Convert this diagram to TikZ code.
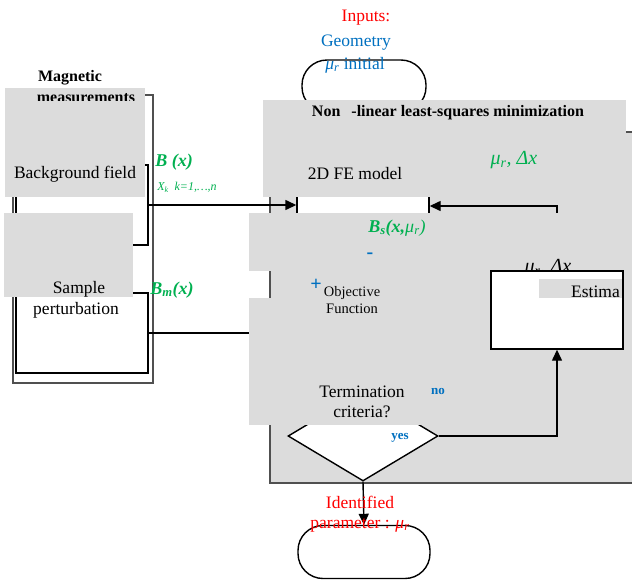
\documentclass[tikz,border=0pt]{standalone}
\usepackage{fontspec}
\setmainfont{Liberation Serif}
\usetikzlibrary{positioning, arrows.meta, shapes.geometric}

\definecolor{patchgray}{RGB}{220,220,220}
\definecolor{framegray}{RGB}{80,80,80}
\definecolor{labelgreen}{RGB}{0,176,80}
\definecolor{labelblue}{RGB}{0,112,192}

\begin{document}
\begin{tikzpicture}[
    x=1pt, y=-1pt, >={Triangle[length=11pt,width=10pt]},
    patch/.style={fill=patchgray},
    box/.style={draw, line width=1.4pt, fill=white, inner sep=0pt},
    terminal/.style={box, rounded corners=25pt},
    txt/.style={inner sep=0pt, font=\fontsize{17.5}{20}\selectfont},
    head/.style={inner sep=0pt, font=\fontsize{16}{19}\selectfont\bfseries},
    small/.style={inner sep=0pt, font=\fontsize{14.5}{17}\selectfont, align=center},
    gtxt/.style={inner sep=0pt, text=labelgreen, font=\fontsize{18}{21}\selectfont\bfseries\itshape},
    btxt/.style={inner sep=0pt, text=labelblue, font=\fontsize{13}{15}\selectfont\bfseries},
    line/.style={line width=1.4pt}
]
    \useasboundingbox (0,0) rectangle (632,581);
    \clip (0,0) rectangle (632,581);

    % minimization frame
    \filldraw[patch, draw=framegray, line width=1.4pt] (270,132) rectangle (645,483);

    % boxes under the patches
    \node[terminal, minimum width=124pt, minimum height=52pt] (inputs) at (364,86) {};
    \node[box, minimum width=132pt, minimum height=32pt] (fe) at (363,206) {};
    \node[box, diamond, minimum width=150pt, minimum height=90pt] (term) at (363,436) {};
    \node[box, fill=none, draw=framegray, minimum width=140pt, minimum height=288pt] (meas) at (83,239) {};
    \node[box, fill=none, minimum width=132pt, minimum height=80pt] (bg) at (82,205) {};
    \node[box, minimum width=132pt, minimum height=80pt] (sample) at (82,333) {};
    \node[small, text=white] (obj) at (352,300) {Objective\\Function};

    % hidden connectors
    \draw[line, ->] (bg.east) -- (bg.east -| fe.west);
    \draw[line, ->] (557,271) |- (fe.east);
    \draw[line] (sample.east) -- (sample.east -| obj.west);

    % grey patches
    \fill[patch] (5,88) rectangle (145,197);
    \fill[patch] (4,213) rectangle (133,297);
    \fill[patch] (263,100) rectangle (626,197);
    \fill[patch] (249,213) rectangle (632,271);
    \fill[patch] (249,298) rectangle (632,425);

    % estimation box
    \node[inner sep=0pt, font=\fontsize{20}{24}\selectfont\itshape] (estpar) at (548,268) {μ\textsubscript{r}, Δx};
    \node[box, minimum width=132pt, minimum height=78pt] (estima) at (557,310) {};
    \fill[patch] (539,279) rectangle (622,298);
    \node[txt, anchor=east] (estlbl) at (620,292) {Estima};

    % visible connectors
    \draw[line, ->] (term.east) -| (estima.south);
    \node[terminal, minimum width=132pt, minimum height=53pt] (output) at (364,552) {};
    \draw[line, ->] (term.south) -- (output.north);

    % texts
    \node[head] (magn) at (70,78) {Magnetic};
    \begin{scope}
        \clip (0,88) rectangle (160,100);
        \node[head, anchor=base] (measlbl) at (86,102.5) {measurements};
    \end{scope}
    \node[txt] (bglbl) at (75,174) {Background field};
    \node[txt] (samplbl) at (79,289) {Sample};
    \node[txt] (pertlbl) at (76,310) {perturbation};
    \node[gtxt] (bx) at (174,162) {B (x)};
    \node[inner sep=0pt, text=labelgreen, font=\fontsize{12}{14}\selectfont\itshape] (xk) at (187,187) {X\textsubscript{k}\ \ k=1,…,n};
    \node[gtxt] (bm) at (172,290) {B\textsubscript{m}(x)};

    \node[txt, text=red] (inlbl) at (366,18) {Inputs:};
    \node[txt, text=labelblue] (geo) at (356,43) {Geometry};
    \node[txt, text=labelblue] (muinit) at (355,65) {\textit{μ\textsubscript{r}} initial};

    \node[head] (title) at (448,113) {Non\hspace{11pt}-linear least-squares minimization};
    \node[txt] (felbl) at (355,174) {2D FE model};
    \node[inner sep=0pt, text=labelgreen, font=\fontsize{20}{24}\selectfont\itshape] (mudx) at (514,160) {μ\textsubscript{r}, Δx};
    \node[gtxt] (bs) at (397,228) {B\textsubscript{s}(x,\mdseries μ\textsubscript{r})};
    \node[btxt, font=\fontsize{20}{24}\selectfont\bfseries] (minus) at (370,256) {-};
    \node[btxt, font=\fontsize{20}{24}\selectfont\bfseries] (plus) at (316,285) {+};
    \node[small] (objlbl) at (352,300) {Objective\\Function};
    \node[txt, align=center] (termlbl) at (362,402) {Termination\\criteria?};
    \node[btxt] (no) at (438,391) {no};
    \node[btxt] (yes) at (400,438) {yes};

    \node[txt, text=red, align=center] (idlbl) at (360,514) {Identified\\parameter : \textit{μ\textsubscript{r}}};
\end{tikzpicture}
\end{document}
